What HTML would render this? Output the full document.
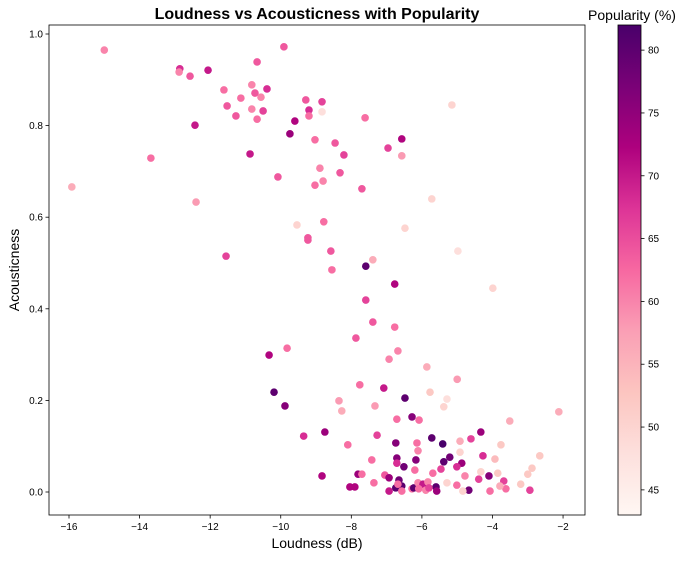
<!DOCTYPE html>
<html><head><meta charset="utf-8"><style>
body{margin:0;background:#fff;font-family:"Liberation Sans",sans-serif}
svg text{font-family:"Liberation Sans",sans-serif;fill:#000}
</style></head><body>
<svg id="c" width="686" height="556">
<defs><linearGradient id="g" x1="0" y1="1" x2="0" y2="0">
<stop offset="0" stop-color="#fff7f3"/><stop offset="0.125" stop-color="#fde0dd"/><stop offset="0.25" stop-color="#fcc5c0"/><stop offset="0.375" stop-color="#fa9fb5"/><stop offset="0.5" stop-color="#f768a1"/><stop offset="0.625" stop-color="#dd3497"/><stop offset="0.75" stop-color="#ae017e"/><stop offset="0.875" stop-color="#7a0177"/><stop offset="1" stop-color="#49006a"/></linearGradient></defs>
<text x="317" y="19" text-anchor="middle" font-size="16" font-weight="bold">Loudness vs Acousticness with Popularity</text>
<text x="632" y="20" text-anchor="middle" font-size="14">Popularity (%)</text>
<text x="317" y="548" text-anchor="middle" font-size="14">Loudness (dB)</text>
<text x="19" y="270" text-anchor="middle" font-size="14" transform="rotate(-90 19 270)">Acousticness</text>
<g id="pts"></g>
<g id="ax"></g>
<rect x="618" y="25" width="23" height="490" fill="url(#g)" stroke="#000" stroke-width="0.8"/>
<g id="cb"></g>
</svg>
<script>
const xs=[-15.0,-12.86,-12.88,-12.57,-12.06,-9.91,-10.67,-11.61,-10.82,-10.73,-10.56,-10.39,-11.13,-11.52,-10.82,-10.50,-11.27,-10.67,-12.43,-9.29,-8.83,-9.20,-9.20,-8.83,-7.61,-9.60,-9.74,-9.03,-8.46,-8.21,-10.87,-13.68,-8.89,-8.32,-10.08,-8.80,-9.03,-7.70,-15.92,-12.40,-9.54,-8.78,-9.23,-11.55,-6.57,-6.96,-6.57,-5.15,-5.72,-6.48,
-8.58,-7.39,-7.59,-8.55,-4.98,-6.77,-3.99,-7.59,-7.39,-6.77,-7.87,-9.82,-10.33,-6.68,-6.93,-5.86,-5.0,-7.76,-7.08,-10.19,-6.48,-5.77,-5.29,-9.88,-9.23,
-8.75,-8.10,-7.27,-6.74,-6.71,-6.71,-6.51,-6.17,-6.20,-6.14,-6.11,-5.72,-5.41,-5.21,-5.38,-4.87,-5.01,-5.46,-5.69,-4.92,-4.61,-4.33,-4.92,-4.27,-3.76,-3.93,-3.51,-2.66,-2.88,-3.0,-2.12,-3.68,-4.10,-4.39,-4.33,-3.85,-4.78,-5.29,-5.01,-4.67,-4.84,-4.07,-3.62,-3.79,-3.20,-2.94,
-7.81,-7.70,-7.36,-7.42,-8.04,-7.90,-7.05,-6.93,-6.65,-6.57,-6.74,-6.93,-6.57,-6.68,-6.28,-6.23,-6.11,-5.97,-5.83,-5.89,-5.60,-5.58,-6.09,-5.80,
-8.35,-8.27,-7.33,-5.38,-6.28,-6.08,-6.71,-9.35,-8.83];
const ys=[0.965,0.924,0.917,0.908,0.921,0.972,0.939,0.878,0.889,0.871,0.862,0.880,0.860,0.843,0.836,0.832,0.821,0.814,0.801,0.856,0.852,0.834,0.821,0.830,0.817,0.810,0.782,0.769,0.762,0.736,0.738,0.729,0.707,0.697,0.688,0.679,0.670,0.662,0.666,0.633,0.583,0.590,0.555,0.515,0.771,0.751,0.734,0.845,0.640,0.576,
0.526,0.507,0.493,0.485,0.526,0.454,0.445,0.419,0.371,0.360,0.336,0.314,0.299,0.308,0.290,0.273,0.246,0.234,0.227,0.218,0.205,0.218,0.203,0.188,0.550,
0.131,0.103,0.124,0.107,0.074,0.063,0.055,0.070,0.048,0.107,0.090,0.118,0.105,0.076,0.066,0.063,0.055,0.050,0.041,0.111,0.116,0.131,0.087,0.079,0.103,0.072,0.155,0.079,0.052,0.039,0.175,0.024,0.035,0.028,0.044,0.041,0.035,0.020,0.015,0.004,0.002,0.002,0.007,0.013,0.017,0.004,
0.039,0.039,0.020,0.070,0.011,0.011,0.037,0.031,0.026,0.013,0.009,0.002,0.002,0.017,0.007,0.009,0.020,0.017,0.022,0.004,0.011,0.002,0.007,0.009,
0.199,0.177,0.188,0.186,0.164,0.157,0.159,0.122,0.035];
const pops=[60,68,60,64,70,64,64,62,60,64,60,68,62,64,60,66,64,62,70,64,66,68,62,48,62,72,74,62,64,66,70,62,60,64,64,60,62,64,56,58,50,62,64,66,72,66,58,50,50,50,
64,56,80,62,48,72,50,66,64,62,64,62,72,60,60,56,58,62,70,80,80,52,48,76,64,
74,62,66,76,76,68,78,76,62,62,60,80,82,78,80,74,68,66,62,56,66,74,50,68,52,54,56,52,52,52,56,66,76,66,50,52,60,50,62,78,50,62,62,56,52,66,
74,62,62,62,72,72,64,74,78,80,80,70,62,62,62,80,60,70,60,60,80,74,62,66,
58,56,58,50,76,62,62,68,72];
const xTicks=[-16,-14,-12,-10,-8,-6,-4,-2];
const yTicks=[0.0,0.2,0.4,0.6,0.8,1.0];
const cTicks=[45,50,55,60,65,70,75,80];
const NS='http://www.w3.org/2000/svg';
const X0=49,X1=585,Y0=25,Y1=515;
const sx=v=>69+(v+16)*35.29;
const sy=v=>492-v*458;
const cmin=43,cmax=82;
const stops=['#fff7f3','#fde0dd','#fcc5c0','#fa9fb5','#f768a1','#dd3497','#ae017e','#7a0177','#49006a'];
function hex(h){return[1,3,5].map(i=>parseInt(h.substr(i,2),16));}
function cmap(p){let t=Math.max(0,Math.min(1,(p-cmin)/(cmax-cmin)))*8;let i=Math.min(7,Math.floor(t)),f=t-i;const a=hex(stops[i]),b=hex(stops[i+1]);return 'rgb('+a.map((v,k)=>Math.round(v+(b[k]-v)*f)).join(',')+')';}
function mk(tag,attrs,parent){const e=document.createElementNS(NS,tag);for(const k in attrs)e.setAttribute(k,attrs[k]);parent.appendChild(e);return e;}
const pts=document.getElementById('pts');
for(let i=0;i<xs.length;i++){
 const c=mk('circle',{cx:sx(xs[i]),cy:sy(ys[i]),r:3.8,fill:cmap(pops[i])},pts);
 
 
}
const ax=document.getElementById('ax');
const fr=mk('rect',{x:X0,y:Y0,width:X1-X0,height:Y1-Y0,fill:'none',stroke:'#000','stroke-width':0.8},ax);


xTicks.forEach(v=>{const x=sx(v);mk('line',{x1:x,x2:x,y1:Y1,y2:Y1+3.5,stroke:'#000','stroke-width':0.8},ax);
 const t=mk('text',{x:x,y:Y1+15,'text-anchor':'middle','font-size':10},ax);t.textContent=(v<0?'\u2212'+(-v):v);
 
 });
yTicks.forEach(v=>{const y=sy(v);mk('line',{x1:X0-3.5,x2:X0,y1:y,y2:y,stroke:'#000','stroke-width':0.8},ax);
 const t=mk('text',{x:X0-6,y:y+3.5,'text-anchor':'end','font-size':10},ax);t.textContent=v.toFixed(1);
 
 });
const cb=document.getElementById('cb');
cTicks.forEach(v=>{const y=515-(v-cmin)/(cmax-cmin)*490;mk('line',{x1:641,x2:644.5,y1:y,y2:y,stroke:'#000','stroke-width':0.8},cb);
 const t=mk('text',{x:648,y:y+3.5,'font-size':10},cb);t.textContent=v;
 
 });
</script>
</body></html>
